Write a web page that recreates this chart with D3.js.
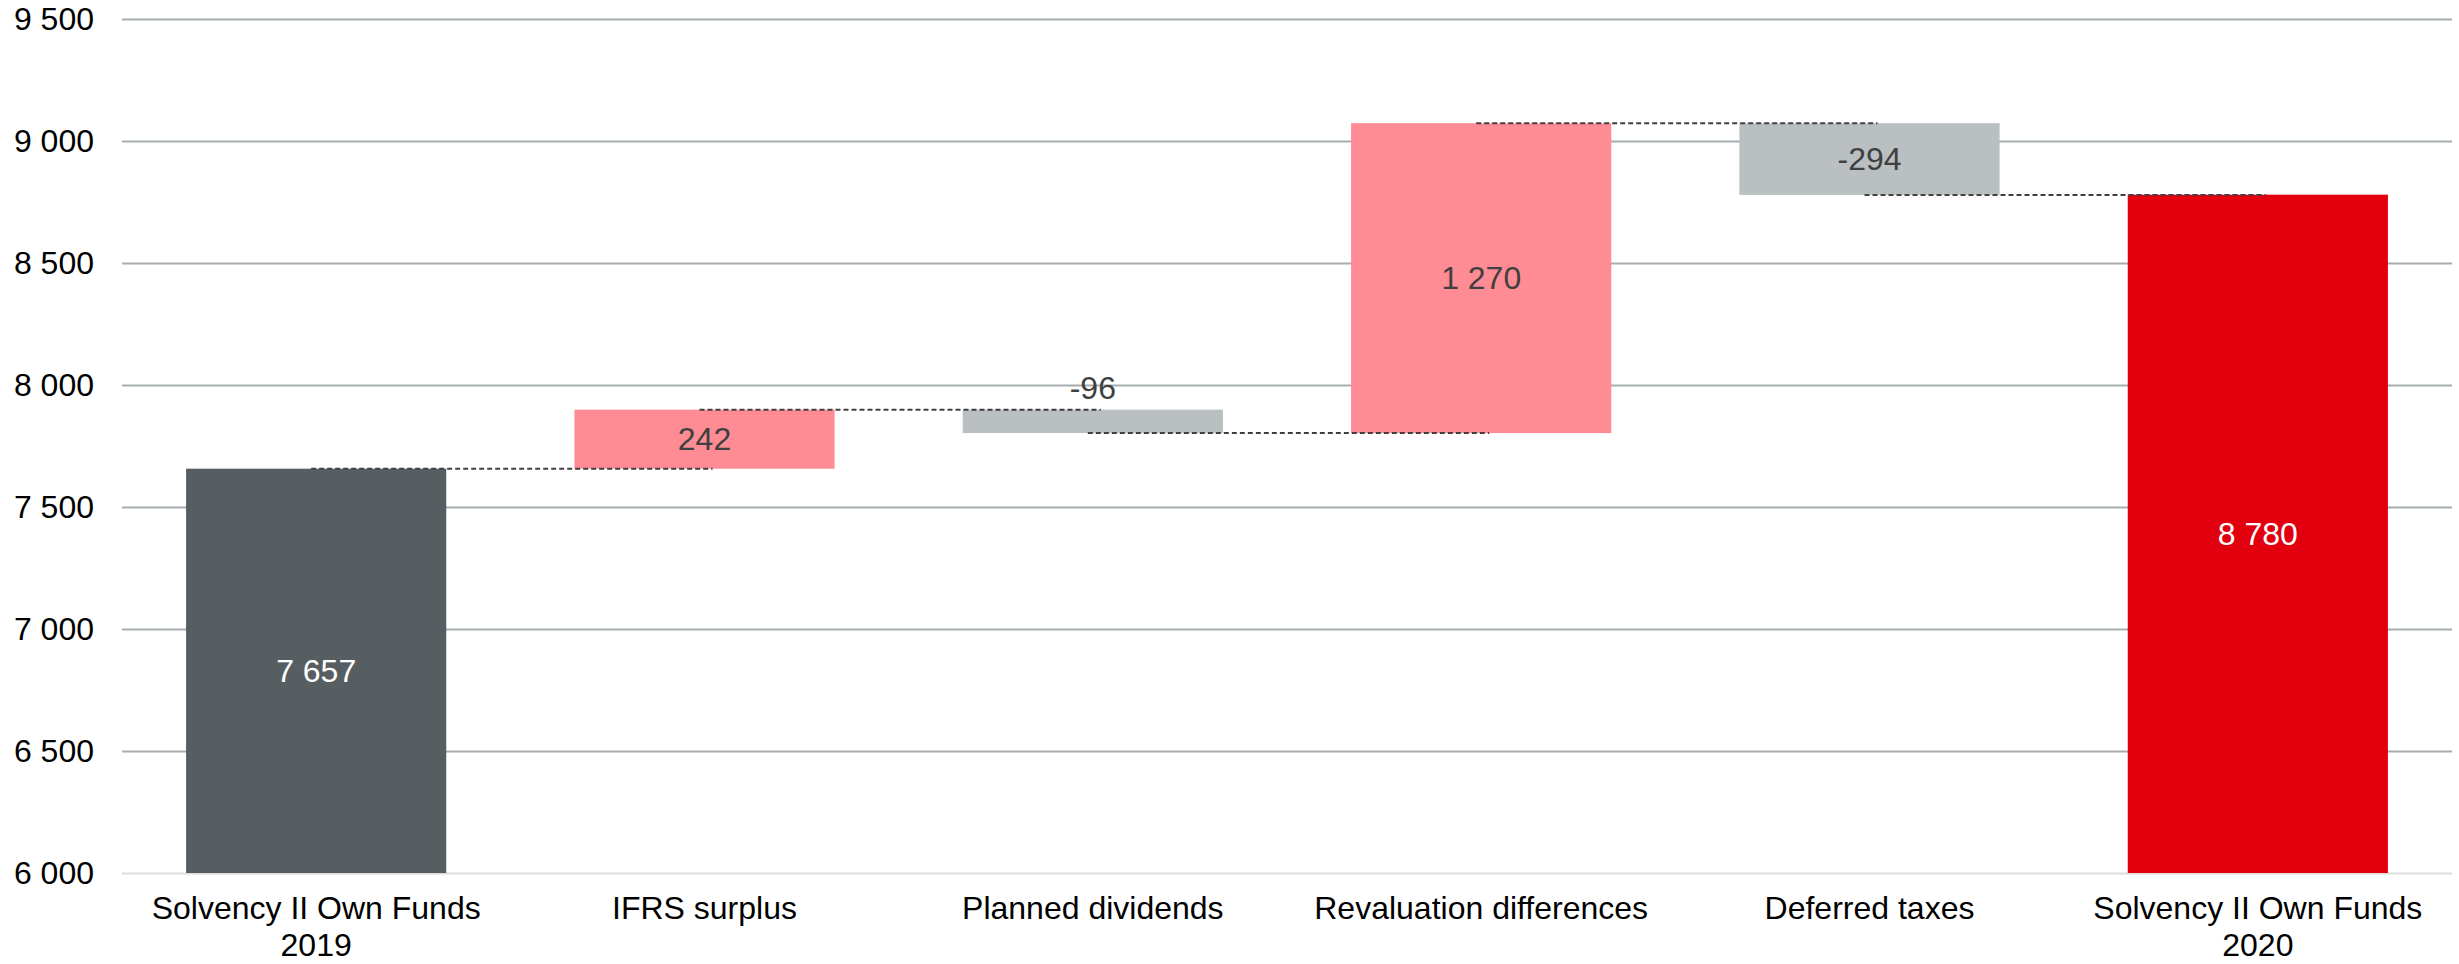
<!DOCTYPE html>
<html>
<head>
<meta charset="UTF-8">
<title>Solvency II Own Funds waterfall</title>
<script src="https://cdn.jsdelivr.net/npm/d3@7"></script>
<style>
    body, html { margin: 0; padding: 0; background: #fff; }
    svg { display: block; font-family: "Liberation Sans", Arial, sans-serif; }
</style>
</head>
<body>
<svg id="chart" width="2459" height="964"></svg>
<script>
    // chart data
    const categories = ["Solvency II Own Funds\n2019", "IFRS surplus", "Planned dividends",
        "Revaluation differences", "Deferred taxes", "Solvency II Own Funds\n2020"];
    const values = [7657, 242, -96, 1270, -294, 8780];
    const kinds = ["start", "delta", "delta", "delta", "delta", "end"];
    const yTicks = [6000, 6500, 7000, 7500, 8000, 8500, 9000, 9500];

    const fmt = d3.formatLocale({ decimal: ",", thousands: " ", grouping: [3], currency: ["", ""], minus: "-" }).format(",d");

    const svg = d3.select("#chart");
    const plotLeft = 122, plotRight = 2452, plotTop = 19, plotBottom = 873;

    const x = d3.scaleBand().domain(categories).range([plotLeft, plotRight]).paddingInner(0.33).paddingOuter(0.165);
    const y = d3.scaleLinear().domain([6000, 9500]).range([plotBottom, plotTop]);

    // build waterfall steps
    let running = 0;
    const steps = categories.map((c, i) => {
        let from, to;
        if (kinds[i] === "delta") {
            from = running;
            to = running + values[i];
        } else {
            from = y.domain()[0];
            to = values[i];
        }
        running = to;
        return { cat: c, from: from, to: to, value: values[i], kind: kinds[i], level: to };
    });

    function colour(d) {
        if (d.kind === "start") return "#575e61";
        if (d.kind === "end") return "#e2000f";
        return d.value >= 0 ? "#ff8c94" : "#babfc1";
    }

    // grid + y labels
    const yAxis = svg.append("g")
        .attr("transform", "translate(" + plotLeft + ",0)")
        .call(d3.axisLeft(y).tickValues(yTicks).tickFormat(fmt).tickSize(-(plotRight - plotLeft)).tickPadding(28));
    yAxis.select(".domain").remove();
    yAxis.selectAll(".tick line")
        .attr("stroke", d => d === 6000 ? "#dcdcdc" : "#a5adb0")
        .attr("stroke-width", 2);
    yAxis.selectAll(".tick text")
        .attr("fill", "#000")
        .attr("font-size", "32px")
        .attr("font-family", "Liberation Sans, Arial, sans-serif");

    // bars
    svg.selectAll("rect.bar")
        .data(steps)
        .enter()
        .append("rect")
        .attr("class", "bar")
        .attr("x", d => x(d.cat))
        .attr("width", x.bandwidth())
        .attr("y", d => y(Math.max(d.from, d.to)))
        .attr("height", d => Math.abs(y(d.from) - y(d.to)))
        .attr("fill", colour);

    // dashed connectors, roughly centre of one bar to centre of the next
    svg.selectAll("line.conn")
        .data(steps.slice(0, -1))
        .enter()
        .append("line")
        .attr("class", "conn")
        .attr("x1", d => x(d.cat) + x.bandwidth() / 2 - 5)
        .attr("x2", (d, i) => x(steps[i + 1].cat) + x.bandwidth() / 2 + 8)
        .attr("y1", d => y(d.level))
        .attr("y2", d => y(d.level))
        .attr("stroke", "#404040")
        .attr("stroke-width", 2)
        .attr("stroke-dasharray", "5,3");

    // value labels
    svg.selectAll("text.val")
        .data(steps)
        .enter()
        .append("text")
        .attr("class", "val")
        .text(d => fmt(d.value))
        .attr("x", d => x(d.cat) + x.bandwidth() / 2)
        .attr("y", d => {
            const h = Math.abs(y(d.from) - y(d.to));
            const mid = (y(d.from) + y(d.to)) / 2;
            return h < 40 ? y(Math.max(d.from, d.to)) - 11 : mid + 11;
        })
        .attr("text-anchor", "middle")
        .attr("font-size", "32px")
        .attr("fill", d => d.kind === "delta" ? "#404040" : "#fff");

    // category labels
    const xl = svg.selectAll("text.cat")
        .data(categories)
        .enter()
        .append("text")
        .attr("class", "cat")
        .attr("x", d => x(d) + x.bandwidth() / 2)
        .attr("y", 919)
        .attr("text-anchor", "middle")
        .attr("font-size", "32px")
        .attr("fill", "#000");
    xl.each(function (d) {
        const lines = d.split("\n");
        const t = d3.select(this);
        lines.forEach((l, i) => {
            t.append("tspan")
                .attr("x", x(d) + x.bandwidth() / 2)
                .attr("dy", i === 0 ? 0 : 37)
                .text(l);
        });
    });
</script>
</body>
</html>
